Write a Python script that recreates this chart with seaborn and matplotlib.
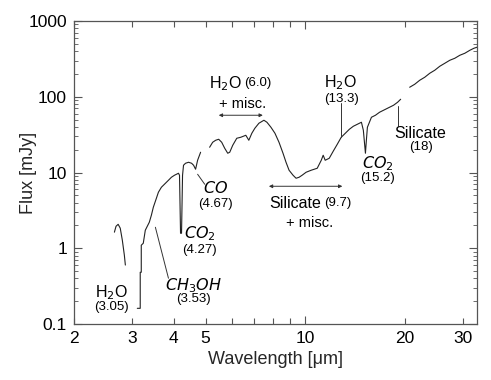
import numpy as np
import pandas as pd
import matplotlib
matplotlib.use("Agg")
import matplotlib.pyplot as plt
import matplotlib.ticker as mticker
import seaborn as sns

# ---------------- data (wavelength in micron, flux in mJy) ----------------
seg1_wl = [2.65, 2.68, 2.72, 2.76, 2.80, 2.84, 2.86]
seg1_fx = [1.63, 1.95, 2.07, 1.84, 1.28, 0.81, 0.60]

seg2_wl = [3.108, 3.172, 3.172, 3.195, 3.195, 3.240, 3.286, 3.332, 3.379, 3.428,
           3.475, 3.550, 3.600, 3.676, 3.781, 3.861, 3.942, 4.026, 4.083, 4.140,
           4.170, 4.200, 4.229, 4.259, 4.288, 4.349, 4.441, 4.535, 4.599, 4.664,
           4.730, 4.830]
seg2_fx = [0.161, 0.161, 0.482, 0.482, 1.096, 1.164, 1.728, 1.952, 2.204, 2.727,
           3.477, 4.573, 5.487, 6.388, 7.213, 7.901, 8.656, 9.199, 9.482, 9.775,
           9.199, 1.578, 1.578, 9.199, 12.47, 13.25, 13.65, 13.25, 12.47, 11.04,
           14.51, 18.51]

seg3_wl = [5.143, 5.253, 5.364, 5.478, 5.594, 5.712, 5.834, 5.916, 6.041, 6.213,
           6.390, 6.617, 6.757, 6.900, 7.047, 7.248, 7.506, 7.665, 7.882, 8.105,
           8.337, 8.573, 8.755, 8.943, 9.194, 9.389, 9.589, 9.792, 10.07, 10.43,
           10.88, 11.19, 11.34, 11.50, 11.83, 12.16, 12.51, 12.86, 13.23, 13.61,
           13.99, 14.39, 14.80, 15.00, 15.22, 15.32, 15.43, 15.87, 16.32, 16.79,
           17.75, 18.51, 19.04, 19.45]
seg3_fx = [21.54, 25.07, 26.65, 27.47, 25.07, 20.90, 17.96, 18.51, 22.89, 28.32,
           29.20, 31.01, 26.65, 32.97, 38.39, 44.70, 48.96, 46.07, 39.57, 32.97,
           25.07, 17.96, 13.65, 10.71, 9.199, 8.397, 8.656, 9.199, 10.08, 10.71,
           11.38, 14.51, 16.90, 14.51, 15.42, 19.08, 23.60, 29.20, 32.97, 37.24,
           40.79, 43.35, 46.07, 36.13, 17.96, 26.65, 39.57, 53.63, 57.00, 62.43,
           70.50, 77.25, 84.62, 92.69]

seg4_wl = [20.71, 21.45, 22.21, 23.00, 23.82, 24.66, 25.54, 26.45, 27.39, 28.36,
           29.37, 30.41, 31.50, 32.40, 33.09]
seg4_fx = [133.5, 146.2, 165.1, 180.9, 204.3, 223.8, 252.7, 276.8, 303.3, 322.3,
           353.1, 375.3, 411.2, 436.9, 450.4]

x_major_ticks = [10]
x_minor_ticks = [2, 3, 4, 5, 6, 7, 8, 9, 20, 30]
x_labeled = [2, 3, 4, 5, 10, 20, 30]
y_ticks = [0.1, 1, 10, 100, 1000]
y_tick_labels = ["0.1", "1", "10", "100", "1000"]

frames = []
for i, (w, f) in enumerate([(seg1_wl, seg1_fx), (seg2_wl, seg2_fx),
                            (seg3_wl, seg3_fx), (seg4_wl, seg4_fx)]):
    frames.append(pd.DataFrame({"wl": w, "flux": f, "seg": i}))
df = pd.concat(frames, ignore_index=True)

# ---------------- figure ----------------
sns.set_style("ticks")
plt.rcParams["font.family"] = ["Liberation Sans", "DejaVu Sans"]
plt.rcParams["mathtext.fontset"] = "dejavusans"

fig = plt.figure(figsize=(4.91, 3.80), dpi=100)
ax = fig.add_axes([0.1507, 0.1474, 0.8208, 0.7973])

sns.lineplot(data=df, x="wl", y="flux", units="seg", estimator=None, sort=False,
             color="#222222", linewidth=0.8, ax=ax)

ax.set_xscale("log")
ax.set_yscale("log")
ax.set_xlim(2, 33.1)
ax.set_ylim(0.1, 1000)

ax.xaxis.set_major_locator(mticker.FixedLocator(x_major_ticks))
ax.xaxis.set_minor_locator(mticker.FixedLocator(x_minor_ticks))
fmt = mticker.FuncFormatter(lambda v, p: f"{v:g}" if round(v) in x_labeled else "")
ax.xaxis.set_major_formatter(fmt)
ax.xaxis.set_minor_formatter(fmt)
ax.yaxis.set_major_locator(mticker.FixedLocator(y_ticks))
ax.yaxis.set_major_formatter(mticker.FixedFormatter(y_tick_labels))
ax.yaxis.set_minor_locator(mticker.LogLocator(base=10, subs=np.arange(2, 10)))
ax.yaxis.set_minor_formatter(mticker.NullFormatter())

spine_col = "#555555"
for s in ax.spines.values():
    s.set_visible(True)
    s.set_color(spine_col)
    s.set_linewidth(0.9)
ax.tick_params(which="both", direction="in", top=True, right=True,
               color=spine_col, labelsize=12.5, labelcolor="black")
ax.tick_params(axis="x", which="major", length=6, width=0.8, pad=5)
ax.tick_params(axis="x", which="minor", length=4, width=0.8, pad=5)
ax.tick_params(axis="y", which="major", length=6, width=0.8, pad=5)
ax.tick_params(axis="y", which="minor", length=3, width=0.6)

ax.set_xlabel("Wavelength [\u03bcm]", fontsize=13, labelpad=4)
ax.set_ylabel("Flux [mJy]", fontsize=13)
ax.yaxis.set_label_coords(-0.092, 0.5)

# ---------------- annotations ----------------
tc = "black"
big = 11.5
small = 9.5

# H2O (6.0) + misc.
ax.text(6.43, 150.7, r"H$_2$O", fontsize=big, ha="right", va="center", color=tc)
ax.text(6.52, 150.7, "(6.0)", fontsize=small, ha="left", va="center", color=tc)
ax.text(6.48, 79.6, "+ misc.", fontsize=small + 1, ha="center", va="center", color=tc)
ax.annotate("", xy=(5.48, 57), xytext=(7.45, 57),
            arrowprops=dict(arrowstyle="<|-|>", lw=0.7, color="#333333",
                            mutation_scale=5, shrinkA=0, shrinkB=0))

# H2O (13.3)
ax.text(12.78, 155.4, r"H$_2$O", fontsize=big, ha="center", va="center", color=tc)
ax.text(12.86, 92.7, "(13.3)", fontsize=small, ha="center", va="center", color=tc)
ax.plot([12.86, 12.86], [82.1, 29.2], color="#333333", lw=0.7)

# CO2 (15.2)
ax.text(16.55, 13.25, r"$CO_2$", fontsize=big, ha="center", va="center", color=tc)
ax.text(16.55, 8.40, "(15.2)", fontsize=small, ha="center", va="center", color=tc)

# Silicate (18)
ax.text(22.36, 32.97, "Silicate", fontsize=big, ha="center", va="center", color=tc)
ax.text(22.36, 21.5, "(18)", fontsize=small, ha="center", va="center", color=tc)
ax.plot([19.04, 19.04], [74.9, 40.8], color="#333333", lw=0.7)

# Silicate (9.7) + misc.
ax.text(11.18, 3.93, "Silicate", fontsize=big, ha="right", va="center", color=tc)
ax.text(11.42, 3.93, "(9.7)", fontsize=small, ha="left", va="center", color=tc)
ax.text(10.28, 2.14, "+ misc.", fontsize=small + 1, ha="center", va="center", color=tc)
ax.annotate("", xy=(7.77, 6.58), xytext=(12.96, 6.58),
            arrowprops=dict(arrowstyle="<|-|>", lw=0.7, color="#333333",
                            mutation_scale=5, shrinkA=0, shrinkB=0))

# CO (4.67)
ax.text(5.36, 6.20, r"$CO$", fontsize=big, ha="center", va="center", color=tc)
ax.text(5.36, 3.81, "(4.67)", fontsize=small, ha="center", va="center", color=tc)
ax.plot([4.73, 4.97], [9.48, 7.0], color="#333333", lw=0.7)

# CO2 (4.27)
ax.text(4.80, 1.578, r"$CO_2$", fontsize=big, ha="center", va="center", color=tc)
ax.text(4.80, 0.941, "(4.27)", fontsize=small, ha="center", va="center", color=tc)

# CH3OH (3.53)
ax.text(4.60, 0.325, r"$CH_3OH$", fontsize=big, ha="center", va="center", color=tc)
ax.text(4.60, 0.212, "(3.53)", fontsize=small, ha="center", va="center", color=tc)
ax.plot([3.525, 3.861], [1.893, 0.402], color="#333333", lw=0.7)

# H2O (3.05)
ax.text(2.591, 0.262, r"H$_2$O", fontsize=big, ha="center", va="center", color=tc)
ax.text(2.591, 0.166, "(3.05)", fontsize=small, ha="center", va="center", color=tc)

fig.savefig("out.png", dpi=100)
